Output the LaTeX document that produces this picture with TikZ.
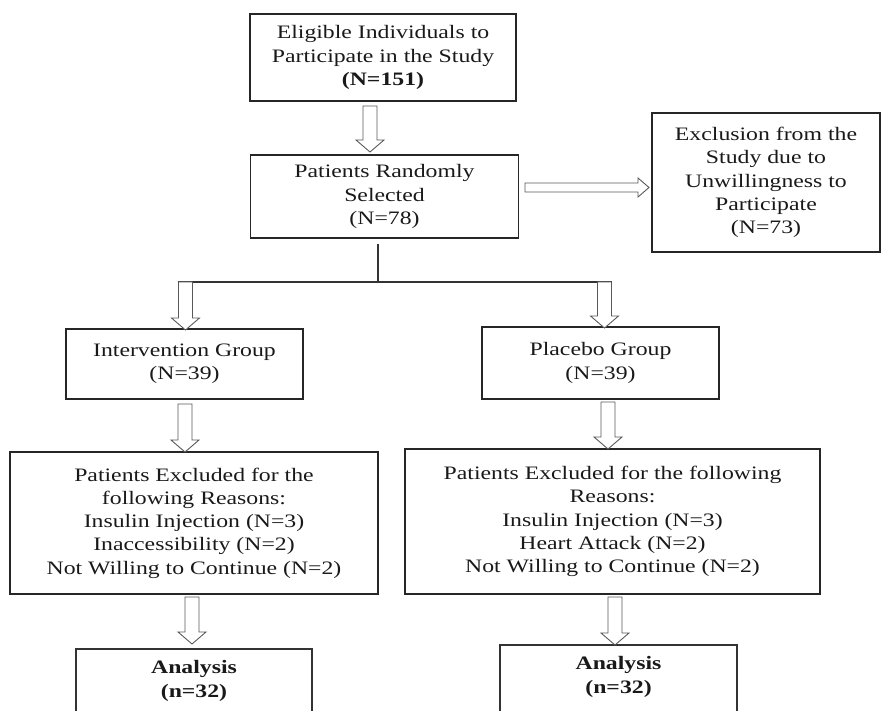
\documentclass[tikz,border=0pt]{standalone}
\usepackage{fontspec}
\setmainfont[FakeStretch=1.25]{Liberation Serif}
\newcommand{\vblk}[3]{\draw[blk] ({#1-7},#2) -- ({#1+7},#2) -- ({#1+7},{#3-12}) -- ({#1+14},{#3-12}) -- (#1,#3) -- ({#1-14},{#3-12}) -- ({#1-7},{#3-12}) -- cycle;}
\begin{document}
\begin{tikzpicture}[x=1pt,y=-1pt,
 box/.style={draw=black!85, line width=1.1pt, inner sep=0pt, align=center, font=\fontsize{19}{23.3}\selectfont, text=black!90},
 txt/.style={align=center, font=\fontsize{19}{23.3}\selectfont, text=black!90, inner sep=0pt},
 blk/.style={draw=black!65, line width=0.9pt, fill=white, line join=miter},
 ln/.style={draw=black!80, line width=1.2pt}]
\useasboundingbox (0,0) rectangle (881,711);

\node[box, minimum width=266, minimum height=87] (elig) at (383,57.5) {Eligible Individuals to\\Participate in the Study\\\textbf{(N=151)}};
\node[box, minimum width=268, minimum height=83] (rand) at (384.5,196.5) {Patients Randomly\\Selected\\(N=78)};
\node[box, minimum width=228, minimum height=139] (excl) at (766,182.5) {Exclusion from the\\Study due to\\Unwillingness to\\Participate\\(N=73)};
\node[box, minimum width=237, minimum height=70] (intv) at (184.5,364) {Intervention Group\\(N=39)};
\node[box, minimum width=237, minimum height=72] (plac) at (600.5,363) {Placebo Group\\(N=39)};
\node[box, minimum width=368, minimum height=142] (exL) at (194,523) {Patients Excluded for the\\following Reasons:\\Insulin Injection (N=3)\\Inaccessibility (N=2)\\Not Willing to Continue (N=2)};
\node[box, minimum width=415, minimum height=145] (exR) at (612.5,521.5) {Patients Excluded for the following\\Reasons:\\Insulin Injection (N=3)\\Heart Attack (N=2)\\Not Willing to Continue (N=2)};
\node[txt] (anL) at (194,681) {\textbf{Analysis}\\\textbf{(n=32)}};
\node[txt] (anR) at (618.5,677) {\textbf{Analysis}\\\textbf{(n=32)}};
\draw[ln] (76,711) |- (312,649) -- (312,711);
\draw[ln] (500,711) |- (737,645) -- (737,711);

% block arrows
\vblk{370}{106}{152}
\draw[blk] (525,183) -- (638,183) -- (638,178) -- (649,187.5) -- (638,197) -- (638,192) -- (525,192) -- cycle;
\coordinate (split) at (378,282);
\draw[ln] (rand.south) ++(-6.5,5) -- (split);
\draw[ln] (178,282) -- (612,282);
\vblk{185.5}{282}{330}
\vblk{604.5}{282}{328}
\vblk{185}{404}{452}
\vblk{608}{402}{449}
\vblk{192}{597}{644}
\vblk{615}{597}{645}
\end{tikzpicture}
\end{document}
